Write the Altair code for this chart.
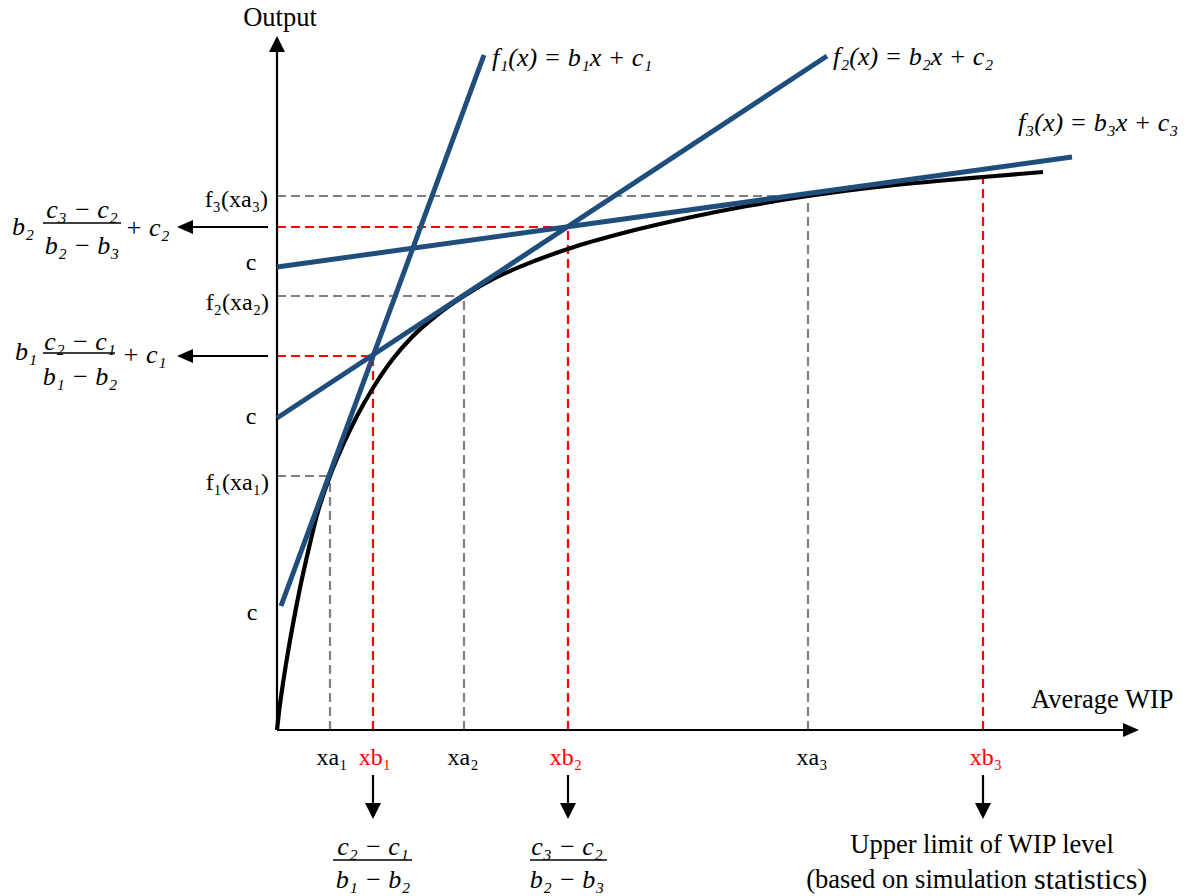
import altair as alt
import pandas as pd

W, H = 1199, 896
X_DOMAIN = [-277, 922]
Y_DOMAIN = [-166, 730]
SERIF = "Liberation Serif"

# ---- black output curve (chart units: origin at axes corner) ----
curve_x = [0, 2, 5, 10, 16, 23, 31, 40, 53, 66, 80, 96, 115, 135, 160, 187, 220, 260,
           300, 350, 410, 470, 531, 600, 660, 706, 766]
curve_y = [0, 18, 40, 72, 106, 142, 178, 215, 254, 285, 314, 342, 370, 393, 415, 434,
           453, 470, 484, 498, 512, 524, 534, 543, 549, 553, 558]

# ---- tangent lines f1, f2, f3 (segment end points) ----
tan_x1 = [4, 0, 0]
tan_y1 = [124, 312, 463]
tan_x2 = [207, 550, 795]
tan_y2 = [675, 674, 573]

# ---- tangent points (gray) and intersection points (red) ----
xa = [53, 187, 531]
fa = [254, 434, 534]
xb = [96, 291, 706]
fb = [374, 503, 558]

# ---- axes ----
axis_len_x = 846
axis_len_y = 680
axis_tip_x = 862
axis_tip_y = 694

# ---- arrows ----
left_arrow_y = [503, 374]
left_arrow_from = -9
left_arrow_to = -85
left_arrow_tip = -100
down_arrow_x = [96, 291, 706]
down_arrow_from = -45
down_arrow_to = -75
down_arrow_tip = -89

# ---- text ----
up_center_text = ["Output", "c", "c", "c", "xa₁", "xb₁", "xa₂", "xb₂", "xa₃", "xb₃",
                  "Upper limit of WIP level"]
up_center_x = [3, -26, -26, -25, 55, 98, 186, 289, 535, 709, 705]
up_center_y = [712, 467, 313, 117, -28, -28, -28, -28, -28, -28, -115]
up_center_col = ["black", "black", "black", "black", "black", "red", "black", "red",
                 "black", "red", "black"]
up_center_size = [26.5, 24, 24, 24, 24, 24, 24, 24, 24, 24, 26.5]

up_right_text = ["f₃(xa₃)", "f₂(xa₂)", "f₁(xa₁)", "(based on simulation"]
up_right_x = [-9, -8, -8, 750]
up_right_y = [530, 427, 247, -150]
up_right_size = [24, 24, 24, 26.5]

up_left_text = ["Average WIP", "statistics)"]
up_left_x = [754, 757]
up_left_y = [30, -150]
up_left_size = [26.5, 30]

it_left_text = ["f₁(x) = b₁x + c₁", "f₂(x) = b₂x + c₂", "f₃(x) = b₃x + c₃",
                "b₂", "+ c₂", "b₁", "+ c₁"]
it_left_x = [215, 556, 741, -265, -152, -262, -155]
it_left_y = [672, 673, 607, 503, 502, 378, 375]

it_center_text = ["c₃ − c₂", "b₂ − b₃", "c₂ − c₁", "b₁ − b₂",
                  "c₂ − c₁", "b₁ − b₂", "c₃ − c₂", "b₂ − b₃"]
it_center_x = [-195, -195, -197, -197, 96, 96, 290, 290]
it_center_y = [520, 484, 388, 353, -117, -150, -117, -150]

bar_x1 = [-234, -234, 56, 253]
bar_x2 = [-156, -162, 135, 330]
bar_y = [507, 377, -130, -130]

# ================= build =================
xs = dict(scale=alt.Scale(domain=X_DOMAIN, nice=False, zero=False), axis=None)
ys = dict(scale=alt.Scale(domain=Y_DOMAIN, nice=False, zero=False), axis=None)


def X(f="x"):
    return alt.X(f + ":Q", **xs)


def Y(f="y"):
    return alt.Y(f + ":Q", **ys)


def segs(rows):
    return pd.DataFrame(rows, columns=["x", "y", "x2", "y2"])


layers = []

# gray dashed guides
gray_rows = []
for a, f in zip(xa, fa):
    gray_rows.append((0, f, a, f))
    gray_rows.append((a, 0, a, f))
layers.append(alt.Chart(segs(gray_rows)).mark_rule(color="#808080", strokeWidth=2.2,
                                                   strokeDash=[9, 5]).encode(
    x=X(), y=Y(), x2="x2:Q", y2="y2:Q"))

# red dashed guides
red_rows = []
for i, (b, f) in enumerate(zip(xb, fb)):
    if i < 2:
        red_rows.append((0, f, b, f))
    red_rows.append((b, 0, b, f))
layers.append(alt.Chart(segs(red_rows)).mark_rule(color="#ff0000", strokeWidth=2.2,
                                                  strokeDash=[9, 5]).encode(
    x=X(), y=Y(), x2="x2:Q", y2="y2:Q"))

# axes and arrow shafts
axis_rows = [(0, 0, axis_len_x, 0), (0, 0, 0, axis_len_y)]
for yy in left_arrow_y:
    axis_rows.append((left_arrow_from, yy, left_arrow_to, yy))
for xx in down_arrow_x:
    axis_rows.append((xx, down_arrow_from, xx, down_arrow_to))
layers.append(alt.Chart(segs(axis_rows)).mark_rule(color="black", strokeWidth=2.2).encode(
    x=X(), y=Y(), x2="x2:Q", y2="y2:Q"))

# black curve
curve_df = pd.DataFrame({"x": curve_x, "y": curve_y, "o": range(len(curve_x))})
layers.append(alt.Chart(curve_df).mark_line(color="black", strokeWidth=4.2,
                                            interpolate="monotone").encode(
    x=X(), y=Y(), order="o:Q"))

# tangent lines
tan_df = pd.DataFrame({"x": tan_x1, "y": tan_y1, "x2": tan_x2, "y2": tan_y2})
layers.append(alt.Chart(tan_df).mark_rule(color="#1f4e7d", strokeWidth=5).encode(
    x=X(), y=Y(), x2="x2:Q", y2="y2:Q"))

# arrow heads
heads = {
    "M0,0L1.07,2.13L-1.07,2.13Z": [(0, axis_tip_y)],
    "M0,0L-2.13,-0.93L-2.13,0.93Z": [(axis_tip_x, 0)],
    "M0,0L2.13,-0.93L2.13,0.93Z": [(left_arrow_tip, yy) for yy in left_arrow_y],
    "M0,0L1.07,-2.13L-1.07,-2.13Z": [(xx, down_arrow_tip) for xx in down_arrow_x],
}
for path, pts in heads.items():
    df = pd.DataFrame(pts, columns=["x", "y"])
    layers.append(alt.Chart(df).mark_point(shape=path, size=225, filled=True, color="black",
                                           opacity=1, strokeWidth=0).encode(x=X(), y=Y()))

# fraction bars
bar_df = pd.DataFrame({"x": bar_x1, "x2": bar_x2, "y": bar_y})
layers.append(alt.Chart(bar_df).mark_rule(color="black", strokeWidth=1.3).encode(
    x=X(), x2="x2:Q", y=Y()))

# texts
df = pd.DataFrame({"x": up_center_x, "y": up_center_y, "t": up_center_text,
                   "c": up_center_col, "s": up_center_size})
layers.append(alt.Chart(df).mark_text(font=SERIF, align="center", baseline="middle").encode(
    x=X(), y=Y(), text="t:N", color=alt.Color("c:N", scale=None),
    size=alt.Size("s:Q", scale=None)))

df = pd.DataFrame({"x": up_right_x, "y": up_right_y, "t": up_right_text, "s": up_right_size})
layers.append(alt.Chart(df).mark_text(font=SERIF, align="right", baseline="middle",
                                      color="black").encode(
    x=X(), y=Y(), text="t:N", size=alt.Size("s:Q", scale=None)))

df = pd.DataFrame({"x": up_left_x, "y": up_left_y, "t": up_left_text, "s": up_left_size})
layers.append(alt.Chart(df).mark_text(font=SERIF, align="left", baseline="middle",
                                      color="black").encode(
    x=X(), y=Y(), text="t:N", size=alt.Size("s:Q", scale=None)))

df = pd.DataFrame({"x": it_left_x, "y": it_left_y, "t": it_left_text})
layers.append(alt.Chart(df).mark_text(font=SERIF, fontSize=26, fontStyle="italic",
                                      align="left", baseline="middle", color="black").encode(
    x=X(), y=Y(), text="t:N"))

df = pd.DataFrame({"x": it_center_x, "y": it_center_y, "t": it_center_text})
layers.append(alt.Chart(df).mark_text(font=SERIF, fontSize=26, fontStyle="italic",
                                      align="center", baseline="middle", color="black").encode(
    x=X(), y=Y(), text="t:N"))

chart = alt.layer(*layers).properties(
    width=W, height=H, padding=0, background="white",
    autosize=alt.AutoSizeParams(type="none"),
).configure_view(stroke=None)

chart.save("out.html", embed_options={"renderer": "svg", "actions": False})
